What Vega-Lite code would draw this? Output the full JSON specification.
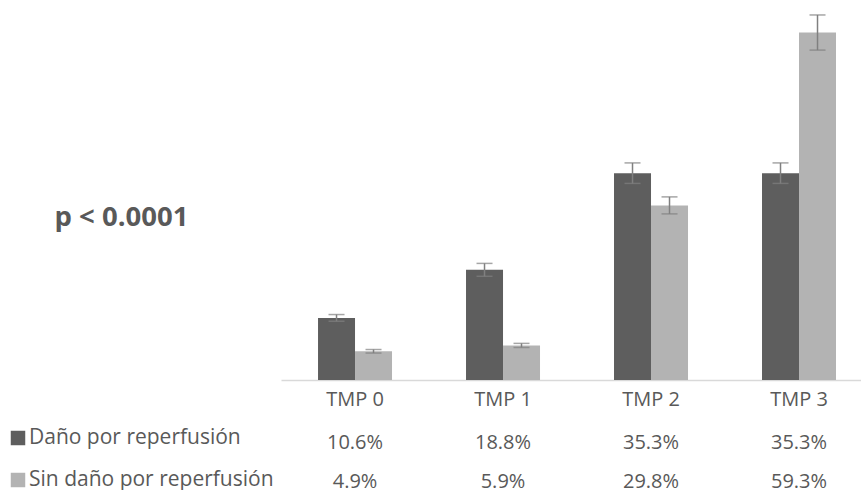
{
  "$schema": "https://vega.github.io/schema/vega-lite/v6.json",
  "padding": {"left": 7, "top": 5, "right": 0, "bottom": 0},
  "autosize": {"type": "pad"},
  "config": {"view": {"stroke": null}, "font": "Open Sans", "concat": {"spacing": 14}},
  "datasets": {
    "bars": [
      {"grupo": "TMP 0", "serie": "Daño por reperfusión", "valor": 0.106, "lo": 0.1003, "hi": 0.1117},
      {"grupo": "TMP 0", "serie": "Sin daño por reperfusión", "valor": 0.049, "lo": 0.046, "hi": 0.052},
      {"grupo": "TMP 1", "serie": "Daño por reperfusión", "valor": 0.188, "lo": 0.177, "hi": 0.199},
      {"grupo": "TMP 1", "serie": "Sin daño por reperfusión", "valor": 0.059, "lo": 0.0555, "hi": 0.0625},
      {"grupo": "TMP 2", "serie": "Daño por reperfusión", "valor": 0.353, "lo": 0.3355, "hi": 0.3705},
      {"grupo": "TMP 2", "serie": "Sin daño por reperfusión", "valor": 0.298, "lo": 0.2835, "hi": 0.3125},
      {"grupo": "TMP 3", "serie": "Daño por reperfusión", "valor": 0.353, "lo": 0.3355, "hi": 0.3705},
      {"grupo": "TMP 3", "serie": "Sin daño por reperfusión", "valor": 0.593, "lo": 0.563, "hi": 0.623}
    ]
  },
  "vconcat": [
    {
      "width": 580,
      "height": 375,
      "layer": [
        {
          "data": {"name": "bars"},
          "mark": {"type": "bar"},
          "encoding": {
            "x": {"field": "grupo", "type": "nominal", "sort": ["TMP 0", "TMP 1", "TMP 2", "TMP 3"],
              "scale": {"type": "band", "paddingInner": 0.5, "paddingOuter": 0.2095, "align": 0.597},
              "axis": {"title": null, "ticks": false, "tickSize": 0, "labelAngle": 0, "labelFontSize": 20, "labelColor": "#595959", "labelPadding": 19, "labelBaseline": "middle", "domainColor": "#D9D9D9", "domainWidth": 1.5}},
            "xOffset": {"field": "serie", "type": "nominal", "sort": ["Daño por reperfusión", "Sin daño por reperfusión"]},
            "y": {"field": "valor", "type": "quantitative", "scale": {"domain": [0, 0.64], "nice": false, "zero": true}, "axis": null},
            "color": {"field": "serie", "type": "nominal", "sort": ["Daño por reperfusión", "Sin daño por reperfusión"],
              "scale": {"range": ["#5E5E5E", "#B3B3B3"]},
              "legend": {"orient": "none", "legendX": -273.5, "legendY": 422.5, "title": null, "symbolType": "square", "symbolSize": 210, "symbolStrokeWidth": 0, "labelFontSize": 21, "labelColor": "#595959", "labelLimit": 400, "rowPadding": 20, "labelOffset": 0.5}}
          }
        },
        {
          "data": {"name": "bars"},
          "mark": {"type": "rule", "color": "#808080", "strokeWidth": 1.5},
          "encoding": {
            "x": {"field": "grupo", "type": "nominal", "sort": ["TMP 0", "TMP 1", "TMP 2", "TMP 3"]},
            "xOffset": {"field": "serie", "type": "nominal", "sort": ["Daño por reperfusión", "Sin daño por reperfusión"]},
            "y": {"field": "lo", "type": "quantitative", "axis": null}, "y2": {"field": "hi"}}
        },
        {
          "data": {"name": "bars"},
          "mark": {"type": "tick", "color": "#808080", "thickness": 1.5, "size": 16},
          "encoding": {
            "x": {"field": "grupo", "type": "nominal", "sort": ["TMP 0", "TMP 1", "TMP 2", "TMP 3"]},
            "xOffset": {"field": "serie", "type": "nominal", "sort": ["Daño por reperfusión", "Sin daño por reperfusión"]},
            "y": {"field": "lo", "type": "quantitative", "axis": null}}
        },
        {
          "data": {"name": "bars"},
          "mark": {"type": "tick", "color": "#808080", "thickness": 1.5, "size": 16},
          "encoding": {
            "x": {"field": "grupo", "type": "nominal", "sort": ["TMP 0", "TMP 1", "TMP 2", "TMP 3"]},
            "xOffset": {"field": "serie", "type": "nominal", "sort": ["Daño por reperfusión", "Sin daño por reperfusión"]},
            "y": {"field": "hi", "type": "quantitative", "axis": null}}
        },
        {
          "data": {"values": [{"texto": "p < 0.0001"}]},
          "mark": {"type": "text", "fontSize": 27.5, "fontWeight": "bold", "color": "#595959", "align": "center", "baseline": "middle", "dx": -449.5, "dy": 25.5},
          "encoding": {"text": {"field": "texto", "type": "nominal"}}
        }
      ]
    },
    {
      "width": 580,
      "height": 78,
      "data": {"name": "bars"},
      "mark": {"type": "text", "fontSize": 20, "color": "#595959", "baseline": "middle"},
      "encoding": {
        "x": {"field": "grupo", "type": "nominal", "sort": ["TMP 0", "TMP 1", "TMP 2", "TMP 3"],
          "scale": {"type": "band", "paddingInner": 0.5, "paddingOuter": 0.2095, "align": 0.597}, "axis": null},
        "y": {"field": "serie", "type": "nominal", "sort": ["Daño por reperfusión", "Sin daño por reperfusión"], "axis": null},
        "text": {"field": "valor", "type": "quantitative", "format": ".1%"}
      }
    }
  ]
}
